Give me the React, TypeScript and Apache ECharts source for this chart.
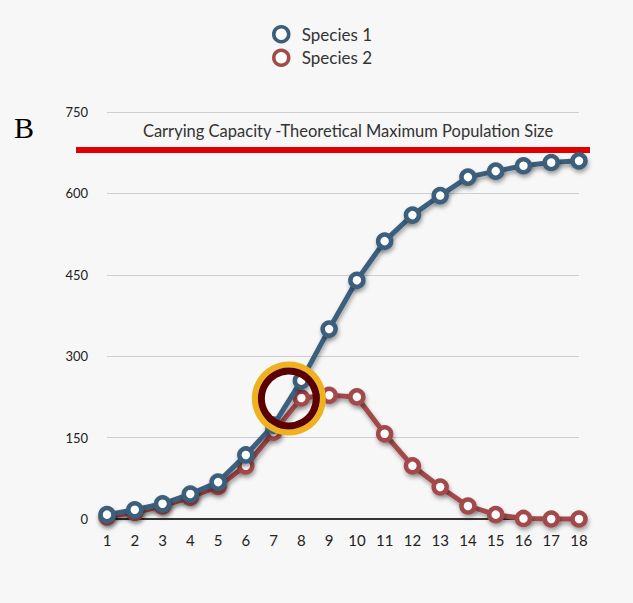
import React, { useEffect, useRef } from "react";
import * as echarts from "echarts";

const days = [1, 2, 3, 4, 5, 6, 7, 8, 9, 10, 11, 12, 13, 14, 15, 16, 17, 18];
const species1 = [8, 17, 28, 46, 68, 118, 173, 255, 350, 440, 512, 560, 596, 630, 641, 651, 657, 660];
const species2 = [4, 12, 24, 40, 60, 98, 160, 223, 228, 225, 157, 98, 59, 24, 8, 1, 0, 0];
const carryingCapacity = 680;
const highlightPoint = [7.55, 222];
const yTicks = [0, 150, 300, 450, 600, 750];

const BLUE = "#3b5f7b";
const RED = "#a34a4b";
const FONT = "Lato, 'Open Sans', sans-serif";

export default function App() {
  const ref = useRef<HTMLDivElement>(null);
  useEffect(() => {
    if (!ref.current) return;
    const chart = echarts.init(ref.current, undefined, { renderer: "svg" });
    const shadow = { shadowColor: "rgba(0,0,0,0.35)", shadowBlur: 4, shadowOffsetY: 3, shadowOffsetX: 1 };
    chart.setOption({
      animation: false,
      backgroundColor: "#f7f7f7",
      legend: {
        orient: "vertical",
        left: 267,
        top: 20,
        itemGap: 5,
        itemWidth: 15,
        itemHeight: 15,
        icon: "circle",
        textStyle: { fontSize: 17, color: "#333", fontFamily: FONT, padding: [0, 0, 0, 8] },
        data: [
          { name: "Species 1", itemStyle: { color: "#fff", borderColor: BLUE, borderWidth: 3.5 } },
          { name: "Species 2", itemStyle: { color: "#fff", borderColor: RED, borderWidth: 3.5 } },
        ],
      },
      grid: [
        { left: 107, right: 54, top: 112, bottom: 84 },
        { left: 76, right: 43, top: 112, bottom: 84 },
      ],
      xAxis: [
        {
          type: "value",
          gridIndex: 0,
          min: 1,
          max: 18,
          interval: 1,
          splitLine: { show: false },
          axisTick: { show: false },
          axisLine: { show: true, lineStyle: { color: "#333", width: 2 } },
          axisLabel: { fontSize: 15, color: "#222", margin: 13, fontFamily: FONT },
        },
        { type: "value", gridIndex: 1, min: 0, max: 1, show: false },
      ],
      yAxis: [
        {
          type: "value",
          gridIndex: 0,
          min: 0,
          max: 750,
          interval: 150,
          axisLine: { show: false },
          axisTick: { show: false },
          splitLine: { lineStyle: { color: "#cfcfcf", width: 1 } },
          axisLabel: {
            fontSize: 13,
            color: "#222",
            margin: 19,
            fontFamily: FONT,
            formatter: (v: number) => (yTicks.includes(v) ? String(v) : ""),
          },
        },
        { type: "value", gridIndex: 1, min: 0, max: 750, show: false },
      ],
      series: [
        {
          name: "Carrying Capacity",
          type: "line",
          xAxisIndex: 1,
          yAxisIndex: 1,
          data: [
            [0, carryingCapacity],
            [1, carryingCapacity],
          ],
          symbol: "none",
          lineStyle: { color: "#e00000", width: 6 },
          z: 1,
        },
        {
          name: "Species 2",
          type: "line",
          data: days.map((d, i) => [d, species2[i]]),
          symbol: "circle",
          symbolSize: 13,
          clip: false,
          lineStyle: { color: RED, width: 5, ...shadow },
          itemStyle: { color: "#fff", borderColor: RED, borderWidth: 4.5, ...shadow },
          z: 3,
        },
        {
          name: "Species 1",
          type: "line",
          data: days.map((d, i) => [d, species1[i]]),
          symbol: "circle",
          symbolSize: 13,
          clip: false,
          lineStyle: { color: BLUE, width: 5, ...shadow },
          itemStyle: { color: "#fff", borderColor: BLUE, borderWidth: 4.5, ...shadow },
          z: 4,
        },
        {
          name: "ring-outer",
          type: "scatter",
          data: [highlightPoint],
          symbol: "circle",
          symbolSize: 68,
          itemStyle: { color: "rgba(0,0,0,0)", borderColor: "#efb21e", borderWidth: 6, opacity: 1 },
          z: 10,
          silent: true,
        },
        {
          name: "ring-inner",
          type: "scatter",
          data: [highlightPoint],
          symbol: "circle",
          symbolSize: 55,
          itemStyle: { color: "rgba(0,0,0,0)", borderColor: "#5a0000", borderWidth: 7, opacity: 1 },
          z: 11,
          silent: true,
        },
      ],
      graphic: [
        {
          type: "text",
          left: 14,
          top: 112,
          style: { text: "B", fontSize: 30, fill: "#000", fontFamily: "'Liberation Serif', serif" },
        },
        {
          type: "text",
          x: 348,
          y: 131,
          style: {
            text: "Carrying Capacity -Theoretical Maximum Population Size",
            fontSize: 16.5,
            fill: "#333",
            fontFamily: FONT,
            align: "center",
            verticalAlign: "middle",
          },
        },
      ],
    });
    return () => chart.dispose();
  }, []);
  return <div ref={ref} style={{ position: "absolute", left: 0, top: 0, width: 633, height: 603 }} />;
}
